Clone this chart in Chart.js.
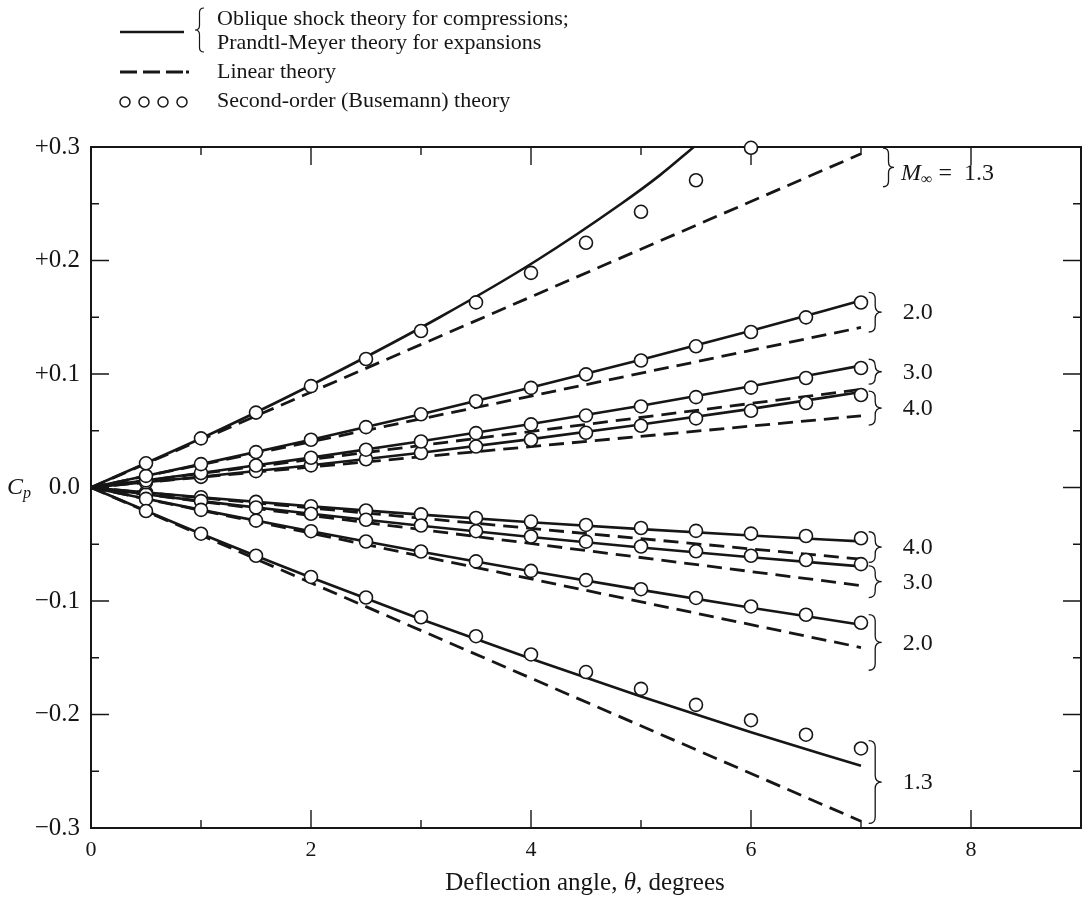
<!DOCTYPE html>
<html>
<head>
<meta charset="utf-8">
<script src="https://cdn.jsdelivr.net/npm/chart.js@4.4.1/dist/chart.umd.min.js"></script>
<style>
  html, body { margin: 0; padding: 0; background: #fff; }
  #wrap { position: relative; width: 1090px; height: 903px; }
</style>
</head>
<body>
<div id="wrap"><canvas id="cp"></canvas></div>
<script>
// Pressure coefficient vs deflection angle.
// Compressions are positive Cp, expansions negative.

const THETA_CIRCLES = [0.5, 1, 1.5, 2, 2.5, 3, 3.5, 4, 4.5, 5, 5.5, 6, 6.5, 7];
const THETA_WHOLE = [0, 1, 2, 3, 4, 5, 6, 7];
const THETA_LINEAR = [0, 7];

// exact curves (oblique shock / Prandtl-Meyer)
const SHOCK_13_THETA = [0, 1.15, 2.2, 3.17, 4.05, 4.82, 5.17, 5.48];
const SHOCK_13_CP = [0, 0.05, 0.10, 0.15, 0.20, 0.25, 0.275, 0.30];
const EXACT_COMP_20 = [0, 0.0206, 0.0421, 0.0646, 0.0881, 0.1126, 0.1381, 0.1647];
const EXACT_COMP_30 = [0, 0.0127, 0.0263, 0.0407, 0.0559, 0.0721, 0.0892, 0.1074];
const EXACT_COMP_40 = [0, 0.0094, 0.0196, 0.0306, 0.0426, 0.0555, 0.0693, 0.0842];
const EXACT_EXP_13 = [0, -0.0408, -0.0793, -0.1160, -0.1508, -0.1841, -0.2156, -0.2452];
const EXACT_EXP_20 = [0, -0.0197, -0.0386, -0.0566, -0.0738, -0.0902, -0.1059, -0.1209];
const EXACT_EXP_30 = [0, -0.0120, -0.0232, -0.0337, -0.0436, -0.0528, -0.0614, -0.0695];
const EXACT_EXP_40 = [0, -0.0086, -0.0166, -0.0239, -0.0306, -0.0367, -0.0423, -0.0475];

// linear theory, end values at 7 deg
const LINEAR_13 = [0, 0.294];
const LINEAR_20 = [0, 0.141];
const LINEAR_30 = [0, 0.0864];
const LINEAR_40 = [0, 0.0631];

// second-order (Busemann) circles
const BUSE_COMP_13 = [0.0213, 0.0433, 0.0660, 0.0893, 0.1132, 0.1379, 0.1631, 0.1891, 0.2156, 0.2429, 0.2707, 0.2993];
const BUSE_COMP_20 = [0.0102, 0.0206, 0.0312, 0.0421, 0.0532, 0.0645, 0.0760, 0.0878, 0.0997, 0.1119, 0.1244, 0.1370, 0.1499, 0.1630];
const BUSE_COMP_30 = [0.0063, 0.0127, 0.0194, 0.0262, 0.0333, 0.0405, 0.0479, 0.0556, 0.0634, 0.0714, 0.0796, 0.0880, 0.0965, 0.1053];
const BUSE_COMP_40 = [0.0046, 0.0094, 0.0144, 0.0195, 0.0249, 0.0304, 0.0361, 0.0421, 0.0482, 0.0544, 0.0609, 0.0676, 0.0744, 0.0815];
const BUSE_EXP_13 = [-0.0207, -0.0407, -0.0601, -0.0788, -0.0969, -0.1143, -0.1310, -0.1471, -0.1626, -0.1774, -0.1915, -0.2050, -0.2178, -0.2299];
const BUSE_EXP_20 = [-0.0100, -0.0197, -0.0292, -0.0385, -0.0476, -0.0564, -0.0651, -0.0735, -0.0816, -0.0896, -0.0973, -0.1048, -0.1121, -0.1192];
const BUSE_EXP_30 = [-0.0061, -0.0120, -0.0176, -0.0231, -0.0284, -0.0335, -0.0385, -0.0432, -0.0477, -0.0520, -0.0562, -0.0601, -0.0639, -0.0675];
const BUSE_EXP_40 = [-0.0044, -0.0086, -0.0127, -0.0165, -0.0202, -0.0237, -0.0269, -0.0300, -0.0330, -0.0357, -0.0382, -0.0406, -0.0427, -0.0447];

// Mach number brackets at the right-hand ends
const BRACE_LABELS = ['2.0', '3.0', '4.0', '4.0', '3.0', '2.0', '1.3'];
const BRACE_TOP = [0.172, 0.113, 0.085, -0.039, -0.069, -0.112, -0.223];
const BRACE_BOTTOM = [0.137, 0.091, 0.055, -0.066, -0.097, -0.161, -0.296];
const TOP_BRACE = [0.299, 0.265];

const Y_TICKS = [-0.3, -0.2, -0.1, 0, 0.1, 0.2, 0.3];

const FONT = '"Liberation Serif", "DejaVu Serif", serif';
const INK = '#161616';

function pts(xs, ys) { return ys.map((y, i) => ({ x: xs[i], y })); }

function solid(xs, ys) {
  return { data: pts(xs, ys), showLine: true, borderColor: INK, borderWidth: 2.6,
    pointRadius: 0, cubicInterpolationMode: 'monotone', order: 2 };
}
function dashed(ys) {
  return { data: pts(THETA_LINEAR, ys), showLine: true, borderColor: INK, borderWidth: 2.8,
    borderDash: [15, 8], pointRadius: 0, order: 3 };
}
function circles(ys) {
  return { data: pts(THETA_CIRCLES, ys), showLine: false, pointRadius: 6.5,
    pointBackgroundColor: '#fff', pointBorderColor: INK, pointBorderWidth: 1.6, order: 1, clip: false };
}

const fmtCp = v => Math.abs(v) < 1e-9 ? '0.0' : (v > 0 ? '+' : '\u2212') + Math.abs(v).toFixed(1);

// text made of runs with different fonts
function runs(ctx, parts, x, y, align) {
  let w = 0;
  parts.forEach(p => { ctx.font = p.font; w += ctx.measureText(p.t).width; });
  let cx = align === 'center' ? x - w / 2 : x;
  parts.forEach(p => {
    ctx.font = p.font;
    ctx.fillText(p.t, cx, y + (p.dy || 0));
    cx += ctx.measureText(p.t).width;
  });
}

function brace(ctx, x, y1, y2, w) {
  const ym = (y1 + y2) / 2;
  const r = Math.min(Math.abs(w) / 2, (y2 - y1) / 4);
  const xm = x + w / 2;
  ctx.beginPath();
  ctx.moveTo(x, y1);
  ctx.quadraticCurveTo(xm, y1, xm, y1 + r);
  ctx.lineTo(xm, ym - r);
  ctx.quadraticCurveTo(xm, ym, x + w, ym);
  ctx.quadraticCurveTo(xm, ym, xm, ym + r);
  ctx.lineTo(xm, y2 - r);
  ctx.quadraticCurveTo(xm, y2, x, y2);
  ctx.stroke();
}

const decor = {
  id: 'decor',
  beforeDatasetsDraw(chart) {
    const { ctx, chartArea: a, scales: { x, y } } = chart;
    ctx.save();
    ctx.strokeStyle = INK;
    ctx.lineWidth = 2;
    ctx.strokeRect(a.left, a.top, a.right - a.left, a.bottom - a.top);
    ctx.lineWidth = 1.4;
    ctx.beginPath();
    for (let i = 1; i < 9; i++) {
      const px = x.getPixelForValue(i), len = i % 2 === 0 ? 18 : 8;
      ctx.moveTo(px, a.bottom); ctx.lineTo(px, a.bottom - len);
      ctx.moveTo(px, a.top); ctx.lineTo(px, a.top + len);
    }
    for (let i = -5; i <= 5; i++) {
      const py = y.getPixelForValue(i * 0.05), len = i % 2 === 0 ? 18 : 8;
      ctx.moveTo(a.left, py); ctx.lineTo(a.left + len, py);
      ctx.moveTo(a.right, py); ctx.lineTo(a.right - len, py);
    }
    ctx.stroke();
    ctx.restore();
  },
  afterDraw(chart) {
    const { ctx, chartArea: a, scales: { x, y } } = chart;
    ctx.save();
    ctx.fillStyle = INK;
    ctx.strokeStyle = INK;
    ctx.textBaseline = 'middle';
    const f = (s, it) => (it ? 'italic ' : '') + s + 'px ' + FONT;

    // legend
    const lx = 120, tx = 217;
    ctx.lineWidth = 2.4;
    ctx.beginPath(); ctx.moveTo(lx, 32); ctx.lineTo(lx + 64, 32); ctx.stroke();
    ctx.lineWidth = 1.2;
    brace(ctx, 204, 8, 52, -9);
    ctx.font = f(22);
    ctx.fillText('Oblique shock theory for compressions;', tx, 19);
    ctx.fillText('Prandtl-Meyer theory for expansions', tx, 43);
    ctx.lineWidth = 2.8;
    ctx.setLineDash([17, 6]);
    ctx.beginPath(); ctx.moveTo(lx, 72); ctx.lineTo(lx + 63, 72); ctx.stroke();
    ctx.setLineDash([]);
    ctx.fillRect(lx + 66, 70.5, 3, 3);
    ctx.fillText('Linear theory', tx, 72);
    ctx.lineWidth = 1.5;
    for (let i = 0; i < 4; i++) {
      ctx.beginPath(); ctx.arc(lx + 5 + i * 19, 102, 5, 0, Math.PI * 2); ctx.stroke();
    }
    ctx.fillText('Second-order (Busemann) theory', tx, 101);

    // Mach brackets
    ctx.lineWidth = 1.3;
    const bx = x.getPixelForValue(7.07), lbx = x.getPixelForValue(7.38);
    BRACE_LABELS.forEach((t, i) => {
      const y1 = y.getPixelForValue(BRACE_TOP[i]), y2 = y.getPixelForValue(BRACE_BOTTOM[i]);
      brace(ctx, bx, y1, y2, 13);
      ctx.font = f(24);
      ctx.fillText(t, lbx, (y1 + y2) / 2 + 1);
    });
    const ty1 = y.getPixelForValue(TOP_BRACE[0]), ty2 = y.getPixelForValue(TOP_BRACE[1]);
    const tbx = x.getPixelForValue(7.2);
    brace(ctx, tbx, ty1, ty2, 11);
    runs(ctx, [
      { t: 'M', font: f(24, true) },
      { t: '\u221E', font: f(16), dy: 6 },
      { t: ' =  1.3', font: f(24) }
    ], tbx + 18, (ty1 + ty2) / 2 + 6);

    // axis titles
    runs(ctx, [
      { t: 'Deflection angle, ', font: f(25) },
      { t: '\u03B8', font: f(25, true) },
      { t: ', degrees', font: f(25) }
    ], 585, 883, 'center');
    runs(ctx, [
      { t: 'C', font: f(24, true) },
      { t: 'p', font: f(16, true), dy: 6 }
    ], 7, y.getPixelForValue(0));
    ctx.restore();
  }
};

new Chart(document.getElementById('cp'), {
  type: 'scatter',
  data: {
    datasets: [
      circles(BUSE_COMP_13), circles(BUSE_COMP_20), circles(BUSE_COMP_30), circles(BUSE_COMP_40),
      circles(BUSE_EXP_13), circles(BUSE_EXP_20), circles(BUSE_EXP_30), circles(BUSE_EXP_40),
      solid(SHOCK_13_THETA, SHOCK_13_CP),
      solid(THETA_WHOLE, EXACT_COMP_20), solid(THETA_WHOLE, EXACT_COMP_30), solid(THETA_WHOLE, EXACT_COMP_40),
      solid(THETA_WHOLE, EXACT_EXP_13), solid(THETA_WHOLE, EXACT_EXP_20),
      solid(THETA_WHOLE, EXACT_EXP_30), solid(THETA_WHOLE, EXACT_EXP_40),
      dashed(LINEAR_13), dashed(LINEAR_20), dashed(LINEAR_30), dashed(LINEAR_40),
      dashed(LINEAR_13.map(v => -v)), dashed(LINEAR_20.map(v => -v)),
      dashed(LINEAR_30.map(v => -v)), dashed(LINEAR_40.map(v => -v))
    ]
  },
  options: {
    responsive: true,
    maintainAspectRatio: false,
    animation: false,
    devicePixelRatio: 1,
    layout: { padding: { top: 147, right: 7, left: 0, bottom: 0 } },
    plugins: { legend: { display: false }, tooltip: { enabled: false } },
    scales: {
      x: {
        type: 'linear', min: 0, max: 9,
        afterFit: s => { s.height = 75; },
        grid: { display: false, drawTicks: false },
        border: { display: false },
        ticks: {
          stepSize: 1, autoSkip: false, maxRotation: 0, padding: 9, color: INK,
          font: { family: FONT, size: 22 },
          callback: v => (v % 2 === 0 && v < 9 ? String(v) : '')
        }
      },
      y: {
        type: 'linear', min: -0.3, max: 0.3,
        afterFit: s => { s.width = 91; },
        afterBuildTicks: s => { s.ticks = Y_TICKS.map(v => ({ value: v })); },
        grid: { display: false, drawTicks: false },
        border: { display: false },
        ticks: {
          autoSkip: false, padding: 11, color: INK,
          font: { family: FONT, size: 25 },
          callback: fmtCp
        }
      }
    }
  },
  plugins: [decor]
});
</script>
</body>
</html>
